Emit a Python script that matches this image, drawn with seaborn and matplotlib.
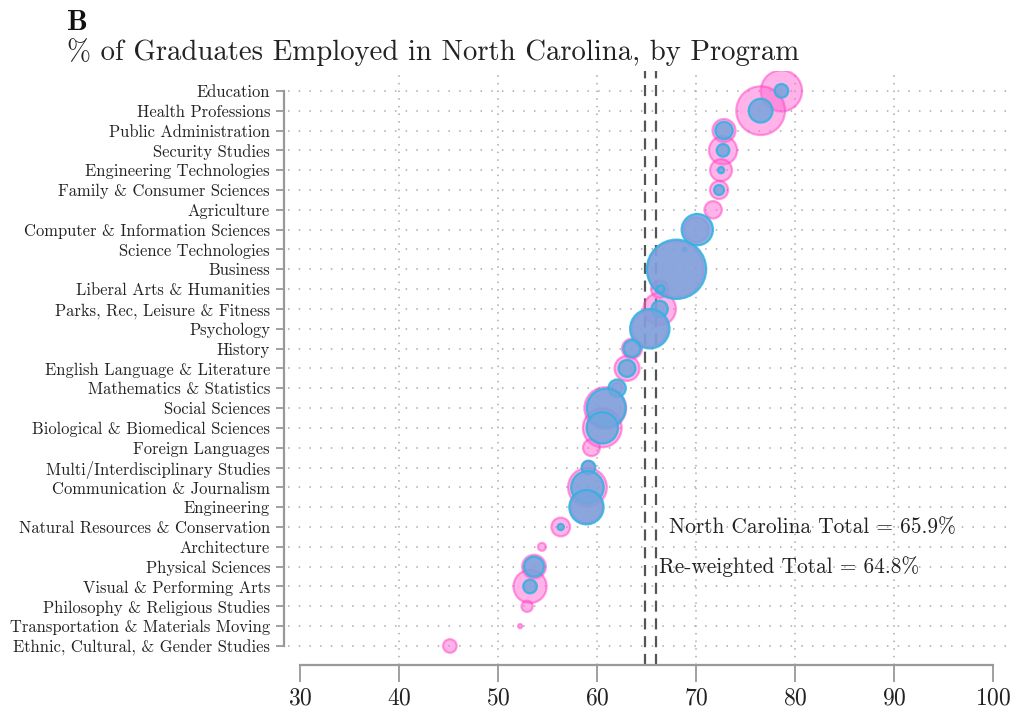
import numpy as np
import pandas as pd
import matplotlib.pyplot as plt
import seaborn as sns

# programs, top to bottom
programs = [
    'Education', 'Health Professions', 'Public Administration', 'Security Studies',
    'Engineering Technologies', 'Family & Consumer Sciences', 'Agriculture',
    'Computer & Information Sciences', 'Science Technologies', 'Business',
    'Liberal Arts & Humanities', 'Parks, Rec, Leisure & Fitness', 'Psychology',
    'History', 'English Language & Literature', 'Mathematics & Statistics',
    'Social Sciences', 'Biological & Biomedical Sciences', 'Foreign Languages',
    'Multi/Interdisciplinary Studies', 'Communication & Journalism', 'Engineering',
    'Natural Resources & Conservation', 'Architecture', 'Physical Sciences',
    'Visual & Performing Arts', 'Philosophy & Religious Studies',
    'Transportation & Materials Moving', 'Ethnic, Cultural, & Gender Studies',
]

# % employed in NC (pink series) and relative bubble size
nc_pct = [78.6, 76.5, 72.8, 72.7, 72.5, 72.3, 71.7, 70.0, 68.8, 67.9, 66.3, 66.3, 65.3,
          63.5, 63.0, 62.0, 60.8, 60.5, 59.4, 59.1, 59.0, 58.9, 56.3, 54.4, 53.6, 53.2,
          52.9, 52.2, 45.1]
nc_size = [484, 676, 151, 225, 137, 94, 86, 177, 4, 900, 86, 300, 361,
           114, 177, 36, 497, 428, 81, 49, 428, 289, 100, 18, 161, 313,
           36, 5, 53]

# re-weighted series (blue)
rw_pct = [78.6, 76.5, 72.8, 72.7, 72.5, 72.3, np.nan, 70.1, 68.8, 68.0, 66.4, 66.3, 65.3,
          63.5, 63.0, 62.0, 60.9, 60.5, np.nan, 59.1, 59.0, 58.9, 56.3, np.nan, 53.6, 53.2,
          np.nan, np.nan, np.nan]
rw_size = [53, 161, 86, 45, 11, 28, np.nan, 279, 2, 1005, 16, 76, 441,
           81, 81, 86, 428, 279, np.nan, 53, 300, 335, 11, np.nan, 114, 53,
           np.nan, np.nan, np.nan]

nc_total = 65.9
rw_total = 64.8

nc = pd.DataFrame({'program': programs, 'pct': nc_pct, 'size': nc_size})
rw = pd.DataFrame({'program': programs, 'pct': rw_pct, 'size': rw_size}).dropna()

sns.set_style('white')
plt.rcParams['font.family'] = ['cmr10', 'DejaVu Serif']
plt.rcParams['axes.formatter.use_mathtext'] = True

fig = plt.figure(figsize=(10.13, 7.11), dpi=100)
ax = fig.add_axes([0.2843, 0.0647, 0.7108, 0.8354])

vmax = 1000
smax = 2.07 * vmax * 0.88
sns.scatterplot(data=nc, x='pct', y='program', size='size', sizes=(0, smax),
                size_norm=(0, vmax), color='#ff69d2', alpha=0.5, edgecolor='#ff3fc6',
                linewidth=1.6, legend=False, ax=ax, zorder=3)
sns.scatterplot(data=rw, x='pct', y='program', size='size', sizes=(0, smax),
                size_norm=(0, vmax), color='#76a4dc', alpha=0.85, edgecolor='#2fb2e2',
                linewidth=1.6, legend=False, ax=ax, zorder=4)

# totals
ax.axvline(rw_total, color='#555555', lw=1.6, ls=(0, (5, 3)), zorder=2)
ax.axvline(nc_total, color='#555555', lw=1.6, ls=(0, (5, 3)), zorder=2)
ax.text(nc_total + 1.3, programs.index('Natural Resources & Conservation'),
        'North Carolina Total = 65.9%', fontsize=15.4, va='center', ha='left', color='#222222')
ax.text(rw_total + 1.4, programs.index('Physical Sciences'),
        'Re-weighted Total = 64.8%', fontsize=15.4, va='center', ha='left', color='#222222')

ax.set_xlim(28.74, 101.5)
ax.set_ylim(len(programs) - 0.04, -1.0)
ax.set_xticks(range(30, 101, 10))
ax.set_yticks(range(len(programs)))
ax.set_yticklabels(programs)
ax.set_xlabel('')
ax.set_ylabel('')

# dotted grid
ax.grid(axis='y', color='#aaaaaa', lw=1.1, ls=(0, (1, 6)))
ax.grid(axis='x', color='#aaaaaa', lw=1.1, ls=(0, (1, 4)))
xg = ax.get_xgridlines()
xg[0].set_visible(False)
xg[-1].set_visible(False)
ax.set_axisbelow(True)

# range-frame axes
for s in ['top', 'right']:
    ax.spines[s].set_visible(False)
ax.spines['left'].set_bounds(0, len(programs) - 1)
ax.spines['left'].set_position(('data', 28.33))
ax.spines['bottom'].set_bounds(30, 100)
for s in ['left', 'bottom']:
    ax.spines[s].set_color('#999999')
    ax.spines[s].set_linewidth(1.6)
ax.tick_params(axis='y', length=6, width=1.3, color='#999999', labelsize=11.9,
               labelcolor='#222222', pad=4, left=True)
ax.tick_params(axis='x', length=12, width=1.3, color='#999999', labelsize=17,
               labelcolor='#222222', pad=4, bottom=True)

fig.text(0.066, 0.958, 'B', fontsize=21, family=['cmb10', 'DejaVu Serif'],
         va='baseline', color='#111111')
fig.text(0.066, 0.9156, '% of Graduates Employed in North Carolina, by Program',
         fontsize=20.7, va='baseline', color='#222222')

plt.savefig('out.png', dpi=100)
